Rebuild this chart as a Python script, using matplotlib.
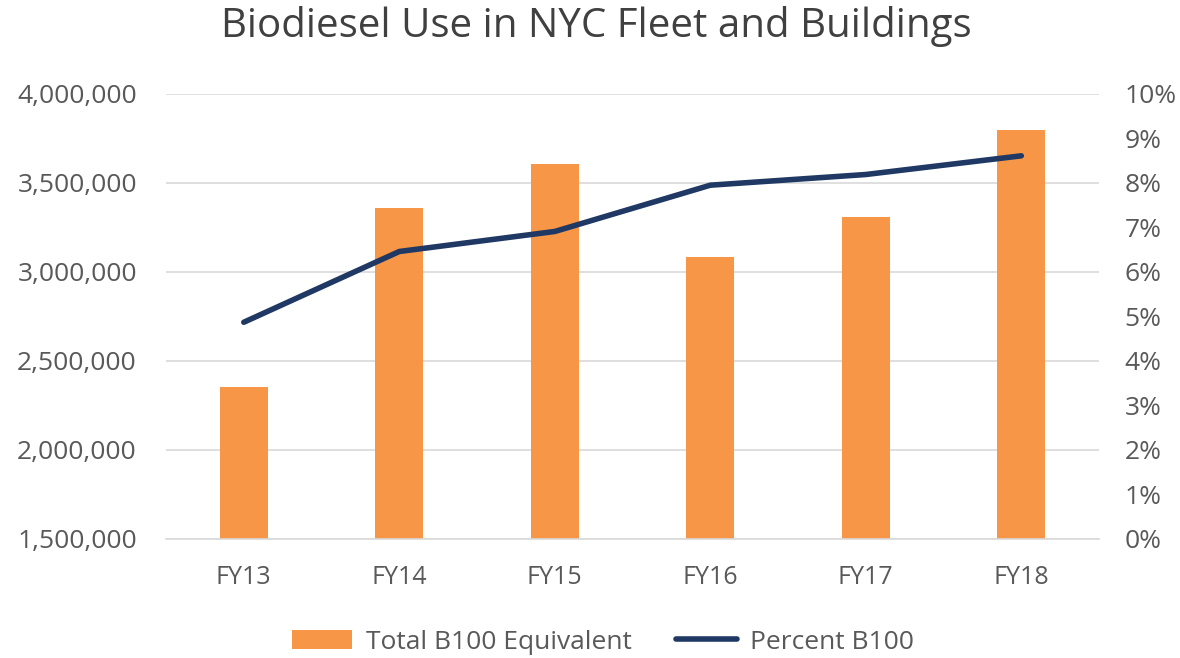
import matplotlib.pyplot as plt
from matplotlib.ticker import FuncFormatter, PercentFormatter

# data
years = ['FY13', 'FY14', 'FY15', 'FY16', 'FY17', 'FY18']
b100_total = [2351000, 3360000, 3609000, 3083000, 3309000, 3800000]
b100_pct = [4.87, 6.46, 6.91, 7.95, 8.19, 8.61]

plt.rcParams['font.family'] = ['Open Sans', 'DejaVu Sans']

orange = '#f79646'
navy = '#1f3864'
grey = '#595959'

fig = plt.figure(figsize=(11.8, 6.58), dpi=100)
ax = fig.add_axes([0.1407, 0.1809, 0.7907, 0.6763])
ax2 = ax.twinx()

x = range(len(years))
ax.bar(x, b100_total, width=0.31, color=orange, label='Total B100 Equivalent', zorder=2)
ax2.plot(x, b100_pct, color=navy, linewidth=4, solid_capstyle='round',
         solid_joinstyle='round', label='Percent B100', zorder=3)

ax.set_xlim(-0.5, len(years) - 0.5)
ax.set_ylim(1500000, 4000000)
ax.set_yticks(range(1500000, 4000001, 500000))
ax.yaxis.set_major_formatter(FuncFormatter(lambda v, p: f'{int(v):,}'))
ax2.set_ylim(0, 10)
ax2.set_yticks(range(0, 11))
ax2.yaxis.set_major_formatter(PercentFormatter(decimals=0))

ax.set_xticks(list(x))
ax.set_xticklabels(years)
ax.grid(axis='y', color='#d9d9d9', linewidth=1.2, zorder=0)
ax.set_axisbelow(True)

for a in (ax, ax2):
    for s in a.spines.values():
        s.set_visible(False)
    a.tick_params(length=0, labelsize=19, labelcolor=grey)
ax.tick_params(axis='y', pad=21)
ax.tick_params(axis='x', pad=19, labelsize=18)
ax2.tick_params(axis='y', pad=18.5)
ax.spines['bottom'].set_visible(True)
ax.spines['bottom'].set_color('#d9d9d9')
ax.spines['bottom'].set_linewidth(1.2)

fig.text(0.5055, 1 - 37 / 658, 'Biodiesel Use in NYC Fleet and Buildings',
         ha='center', va='baseline', fontsize=29, color='#404040')

h1, l1 = ax.get_legend_handles_labels()
h2, l2 = ax2.get_legend_handles_labels()
fig.legend(h1 + h2, l1 + l2, loc='center', bbox_to_anchor=(0.511, 0.024), ncol=2,
           frameon=False, fontsize=19, labelcolor=grey, handlelength=2.3,
           handletextpad=0.5, columnspacing=1.7)

fig.savefig('out.png', dpi=100)
